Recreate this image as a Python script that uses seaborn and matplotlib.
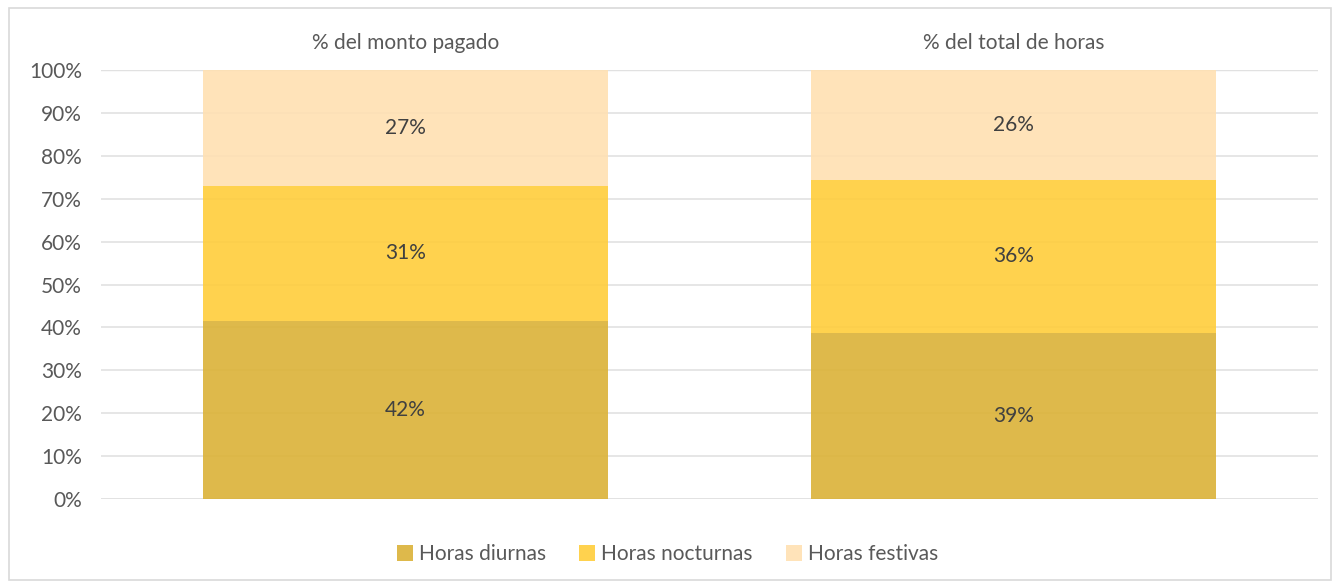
import matplotlib
matplotlib.use("Agg")
import matplotlib.pyplot as plt
import seaborn as sns
import pandas as pd
import numpy as np

# datos (porcentajes)
categorias = ["% del monto pagado", "% del total de horas"]
series = ["Horas diurnas", "Horas nocturnas", "Horas festivas"]
diurnas = [41.5, 38.7]
nocturnas = [31.5, 35.7]
festivas = [27.0, 25.6]
etiquetas = [["42%", "39%"], ["31%", "36%"], ["27%", "26%"]]
colores = ["#DBB237", "#FFCD3B", "#FFE0B2"]

sns.set_theme(style="white")
plt.rcParams['font.family'] = ['Lato', 'DejaVu Sans']
gris = "#595959"

fig = plt.figure(figsize=(13.35, 5.83), dpi=100)
ax = fig.add_axes([0.076, 0.144, 0.911, 0.736])

ax.set_axisbelow(True)
ax.yaxis.grid(True, color="#E4E4E4", linewidth=1.3)

bottom = np.zeros(len(categorias))
for nombre, valores, color, etq in zip(series, [diurnas, nocturnas, festivas], colores, etiquetas):
    df = pd.DataFrame({"cat": categorias, "val": valores})
    sns.barplot(data=df, x="cat", y="val", color=color, width=0.666, saturation=1,
                bottom=bottom, alpha=0.9, linewidth=0, ax=ax, label=nombre)
    bars = ax.containers[-1]
    ax.bar_label(bars, labels=etq, label_type="center", fontsize=15, color="#404040")
    bottom = bottom + np.array(valores)

ax.set_xlim(-0.5, 1.5)
ax.set_ylim(0, 100)
ax.set_yticks(range(0, 101, 10))
ax.set_yticklabels([f"{v}%" for v in range(0, 101, 10)])
ax.tick_params(axis="y", labelsize=15, labelcolor=gris, length=0, pad=14)
ax.xaxis.tick_top()
ax.tick_params(axis="x", labelsize=15, labelcolor=gris, length=0, pad=12)
ax.set_xlabel("")
ax.set_ylabel("")
for s in ["left", "right", "top", "bottom"]:
    ax.spines[s].set_visible(False)
ax.axhline(0, color="#D0D0D0", linewidth=1.3, zorder=0)
ax.axhline(100, color="#C8C8C8", linewidth=1.6, zorder=0)

h, l = ax.get_legend_handles_labels()
if ax.get_legend() is not None:
    ax.get_legend().remove()
fig.legend(h, l, loc="lower center", bbox_to_anchor=(0.5, 0.0), ncol=3,
           frameon=False, fontsize=15, handlelength=0.75, handleheight=0.75,
           handletextpad=0.3, columnspacing=1.6, labelcolor=gris)

fig.patches.append(plt.Rectangle((0.007, 0.005), 0.99, 0.982, transform=fig.transFigure,
                                 fill=False, edgecolor="#D9D9D9", linewidth=1.2))

fig.savefig("out.png", dpi=100)
